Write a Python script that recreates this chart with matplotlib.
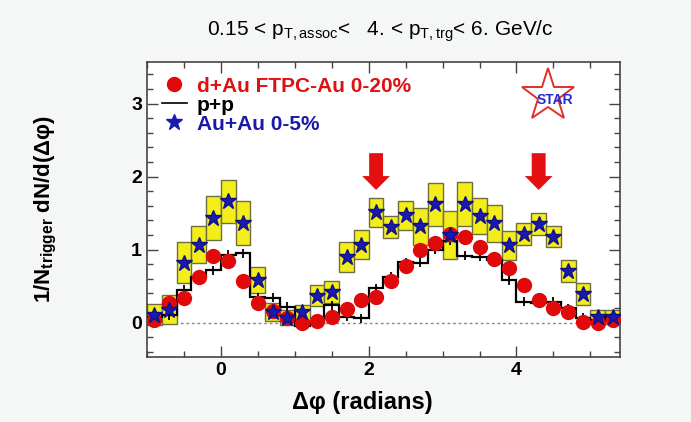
import numpy as np
import matplotlib.pyplot as plt
from matplotlib.ticker import MultipleLocator, FixedLocator

plt.rcParams['font.family'] = ['Liberation Sans', 'DejaVu Sans']
plt.rcParams['mathtext.fontset'] = 'custom'
plt.rcParams['mathtext.rm'] = 'Liberation Sans'
plt.rcParams['mathtext.bf'] = 'Liberation Sans:bold'
plt.rcParams['mathtext.it'] = 'Liberation Sans:italic'

# bin edges of delta phi (radians), 32 bins of 0.2
edges = np.round(np.arange(-1.0, 5.41, 0.2), 2)
centers = (edges[:-1] + edges[1:]) / 2

auau = [0.11, 0.18, 0.82, 1.07, 1.43, 1.66, 1.36, 0.58, 0.15, 0.07, 0.14, 0.37, 0.42, 0.90, 1.07, 1.51,
        1.31, 1.47, 1.32, 1.62, 1.20, 1.63, 1.46, 1.36, 1.06, 1.21, 1.35, 1.18, 0.71, 0.39, 0.08, 0.08]
auau_sys = [0.14, 0.20, 0.28, 0.25, 0.30, 0.30, 0.30, 0.18, 0.12, 0.10, 0.10, 0.14, 0.15, 0.20, 0.20, 0.20,
            0.15, 0.20, 0.25, 0.30, 0.33, 0.30, 0.25, 0.25, 0.20, 0.15, 0.15, 0.15, 0.15, 0.15, 0.10, 0.10]
dau = [0.04, 0.27, 0.34, 0.63, 0.91, 0.85, 0.57, 0.27, 0.16, 0.07, 0.00, 0.03, 0.08, 0.19, 0.31, 0.35,
       0.57, 0.78, 0.99, 1.09, 1.22, 1.17, 1.03, 0.87, 0.75, 0.52, 0.31, 0.20, 0.14, 0.01, 0.00, 0.04]
pp = [0.08, 0.10, 0.45, 0.63, 0.72, 0.93, 0.95, 0.35, 0.34, 0.22, -0.05, 0.01, 0.24, 0.08, 0.06, 0.47,
      0.63, 0.83, 0.82, 1.00, 1.12, 0.92, 0.90, 0.86, 0.58, 0.29, 0.27, 0.29, 0.20, 0.07, 0.04, 0.08]
pp_err = 0.06

arrow_x = [2.1, 4.3]

fig = plt.figure(figsize=(6.91, 4.22), dpi=100, facecolor='#f5f6f6')
ax = fig.add_axes([0.2127, 0.154, 0.6845, 0.699])
ax.set_facecolor('white')

lo = np.array(auau) - np.array(auau_sys)
ax.bar(centers, 2 * np.array(auau_sys), bottom=lo, width=0.2, color='#f3ee1a',
       edgecolor='#6e6e40', linewidth=1.0, zorder=2)
ax.axhline(0, color='#888888', ls=(0, (2, 2)), lw=1.0, zorder=1)
ax.stairs(pp, edges, color='black', lw=1.6, zorder=3)
ax.errorbar(centers, pp, yerr=pp_err, fmt='none', ecolor='black', elinewidth=1.3, zorder=3)
ax.plot(centers, dau, 'o', color='#e00a0a', ms=10, mec='#e00a0a', zorder=4)
ax.plot(centers, auau, '*', color='#1a1ab0', ms=12, mec='#10108a', zorder=5)

for xa in arrow_x:
    ax.annotate('', xy=(xa, 1.78), xytext=(xa, 2.36),
                arrowprops=dict(arrowstyle='simple,head_width=2.0,head_length=1.0,tail_width=1.0',
                                color='#e41010', lw=0))

# STAR logo
ax.plot([4.42], [3.1], '*', ms=40, mfc='none', mec='#e0302a', mew=1.4, zorder=6)
ax.text(4.52, 3.05, 'STAR', color='#2a2ad0', fontsize=10, fontweight='bold', ha='center', va='center',
        zorder=7)

h1, = ax.plot([], [], 'o', color='#e00a0a', ms=10)
h2, = ax.plot([], [], '-', color='black', lw=1.2)
h3, = ax.plot([], [], '*', color='#1a1ab0', ms=12)
leg = ax.legend([h1, h2, h3], ['d+Au FTPC-Au 0-20%', 'p+p', 'Au+Au 0-5%'],
                loc='upper left', bbox_to_anchor=(0.0, 1.0), frameon=False,
                prop={'size': 15, 'weight': 'bold'}, handlelength=1.2, handletextpad=0.5,
                labelspacing=0.0, borderaxespad=0.3)
for t, c in zip(leg.get_texts(), ['#e01010', 'black', '#1a1aa8']):
    t.set_color(c)

ax.set_xlim(-1.0, 5.4)
ax.set_ylim(-0.47, 3.57)
ax.xaxis.set_major_locator(FixedLocator([0, 2, 4]))
ax.xaxis.set_minor_locator(MultipleLocator(0.5))
ax.yaxis.set_major_locator(FixedLocator([0, 1, 2, 3]))
ax.yaxis.set_minor_locator(MultipleLocator(0.2))
ax.tick_params(which='both', direction='in', top=True, right=True, labelsize=14, width=1, color='#444444')
ax.tick_params(which='major', length=8)
ax.tick_params(which='minor', length=4)
for lab in ax.get_xticklabels() + ax.get_yticklabels():
    lab.set_fontweight('bold')
for s in ax.spines.values():
    s.set_color('#444444')
    s.set_linewidth(1.2)

ax.set_xlabel('Δφ (radians)', fontsize=17, fontweight='bold')
ax.xaxis.set_label_coords(0.455, -0.115)
ax.set_ylabel(r'1/N$_{\mathbf{trigger}}$ dN/d(Δφ)', fontsize=16, fontweight='bold', labelpad=52)

fig.text(0.55, 0.927, r'0.15 < p$_{\mathrm{T,assoc}}$<   4. < p$_{\mathrm{T,trg}}$< 6. GeV/c',
         fontsize=15, ha='center', va='center')

fig.savefig('out.png', dpi=100, facecolor=fig.get_facecolor())
